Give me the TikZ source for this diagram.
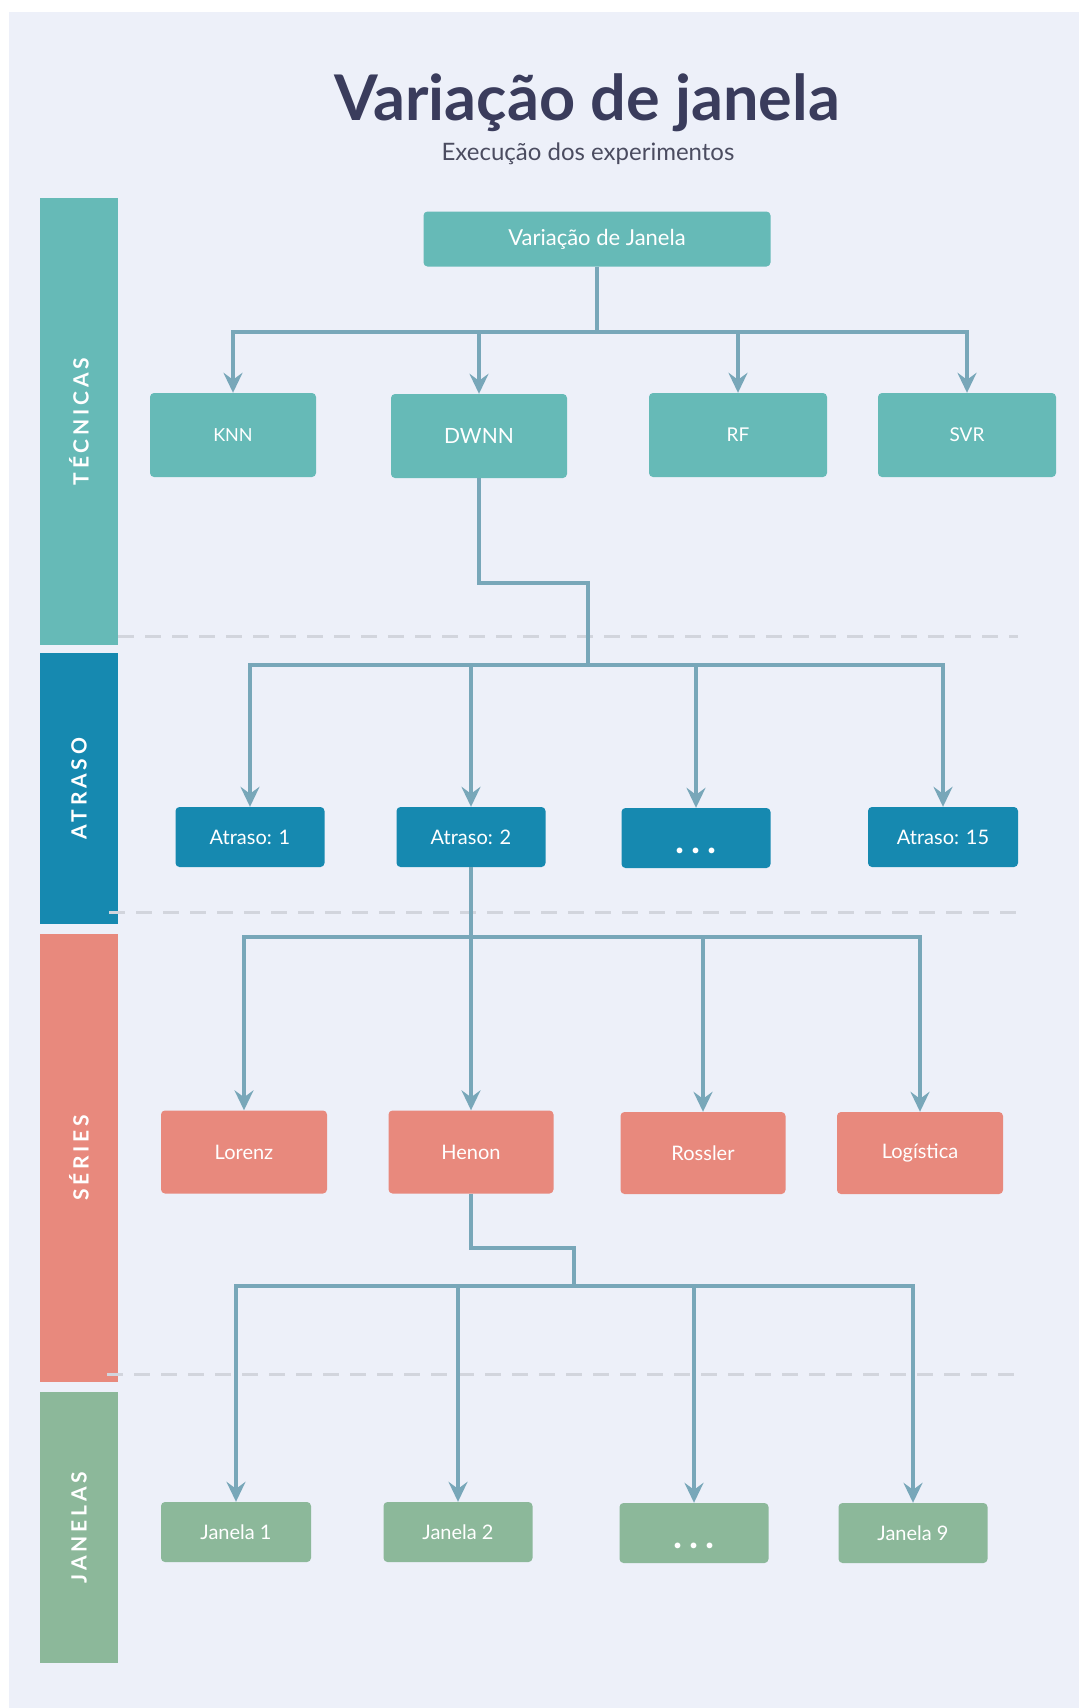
\documentclass[tikz,border=0pt]{standalone}
\usepackage{fontspec}
\setmainfont{Lato}
\newfontfamily\lanefont[LetterSpace=18]{Lato}
\usetikzlibrary{arrows.meta, positioning}
\definecolor{cBack}{HTML}{EDF0F9}
\definecolor{cTitle}{HTML}{3A3C5C}
\definecolor{cSub}{HTML}{4B4C60}
\definecolor{cTeal}{HTML}{66BAB7}
\definecolor{cBlue}{HTML}{1689B0}
\definecolor{cSalmon}{HTML}{E8897D}
\definecolor{cSage}{HTML}{8CB89A}
\definecolor{cLine}{HTML}{78A7B9}
\definecolor{cDash}{HTML}{D2D5DD}
\tikzset{
	box/.style    ={rectangle, rounded corners=4pt, inner sep=0pt, align=center, text=white, font=\fontsize{20}{24}\selectfont},
	dots/.style   ={text height=30pt, text depth=0pt, font=\bfseries\fontsize{38}{38}\selectfont},
	lane/.style   ={rectangle, inner sep=0pt, minimum height=78.5pt, rotate=90, text=white, font=\lanefont\bfseries\fontsize{21}{24}\selectfont},
	flowarrow/.style={-{Stealth[length=20pt, width=19pt, inset=7pt]}, line width=3.5pt, draw=cLine},
	link/.style   ={line width=3.5pt, draw=cLine},
	sep/.style    ={line width=3pt, draw=cDash, dash pattern=on 16pt off 11pt},
}

\begin{document}
\begin{tikzpicture}[x=1pt, y=-1pt]
	\useasboundingbox (0,0) rectangle (1079,1708);
	\fill[white] (0,0) rectangle (1079,1708);
	\fill[cBack] (9,12) rectangle (1079,1708);

	% heading
	\node[anchor=base, text=cTitle, font=\bfseries\fontsize{63}{70}\selectfont] (title) at (587,120) {Variação de janela};
	\node[anchor=base, text=cSub, font=\fontsize{24}{28}\selectfont] (sub) at (588,160) {Execução dos experimentos};

	% side lanes
	\node[lane, fill=cTeal, minimum width=447pt] (ltec) at (79,421.5) {TÉCNICAS};
	\node[lane, fill=cBlue, minimum width=271pt] (latr) at (79,788.5) {ATRASO};
	\node[lane, fill=cSalmon, minimum width=448pt] (lser) at (79,1158) {SÉRIES};
	\node[lane, fill=cSage, minimum width=271pt] (ljan) at (79,1527.5) {JANELAS};

	\draw[sep] (118,636) -- (1018,636);
	\draw[sep] (109,912) -- (1018,912);
	\draw[sep] (107,1374) -- (1018,1374);

	% techniques
	\node[box, fill=cTeal, minimum width=347pt, minimum height=55pt, font=\fontsize{22}{26}\selectfont] (top) at (597,239) {Variação de Janela};
	\node[box, fill=cTeal, minimum width=166pt, minimum height=84pt, font=\fontsize{18}{22}\selectfont] (knn) at (233,435) {KNN};
	\node[box, fill=cTeal, minimum width=176pt, minimum height=84pt, font=\fontsize{21}{24}\selectfont] (dwnn) at (479,436) {DWNN};
	\node[box, fill=cTeal, minimum width=178pt, minimum height=84pt, font=\fontsize{19}{22}\selectfont] (rf) at (738,435) {RF};
	\node[box, fill=cTeal, minimum width=178pt, minimum height=84pt, font=\fontsize{19}{22}\selectfont] (svr) at (967,435) {SVR};

	% delays
	\node[box, fill=cBlue, minimum width=149pt, minimum height=60pt] (a1) at (250,837) {Atraso: 1};
	\node[box, fill=cBlue, minimum width=149pt, minimum height=60pt] (a2) at (471,837) {Atraso: 2};
	\node[box, fill=cBlue, minimum width=149pt, minimum height=60pt, dots] (adots) at (696,838) {.\hspace{7pt}.\hspace{7pt}.};
	\node[box, fill=cBlue, minimum width=150pt, minimum height=60pt] (a15) at (943,837) {Atraso: 15};

	% series
	\node[box, fill=cSalmon, minimum width=166pt, minimum height=83pt] (lor) at (244,1152) {Lorenz};
	\node[box, fill=cSalmon, minimum width=165pt, minimum height=83pt] (hen) at (471,1152) {Henon};
	\node[box, fill=cSalmon, minimum width=165pt, minimum height=82pt] (ros) at (703,1153) {Rossler};
	\node[box, fill=cSalmon, minimum width=166pt, minimum height=82pt] (logi) at (920,1153) {Logística};

	% windows
	\node[box, fill=cSage, minimum width=150pt, minimum height=60pt] (w1) at (236,1532) {Janela 1};
	\node[box, fill=cSage, minimum width=149pt, minimum height=60pt] (w2) at (458,1532) {Janela 2};
	\node[box, fill=cSage, minimum width=149pt, minimum height=60pt, dots] (wdots) at (694,1533) {.\hspace{7pt}.\hspace{7pt}.};
	\node[box, fill=cSage, minimum width=149pt, minimum height=60pt] (w9) at (913,1533) {Janela 9};

	% connectors
	\coordinate (j1) at (597,332);
	\draw[link] (top) -- (j1);
	\foreach \n in {knn,dwnn,rf,svr}
		\draw[flowarrow] (j1) -| (\n);

	\coordinate (k2) at (588,583);
	\coordinate (j2) at (588,665);
	\draw[link] (dwnn) |- (k2) -- (j2);
	\foreach \n in {a1,a2,adots,a15}
		\draw[flowarrow] (j2) -| (\n);

	\coordinate (j3) at (471,937);
	\draw[link] (a2) -- (j3);
	\foreach \n in {lor,hen,ros,logi}
		\draw[flowarrow] (j3) -| (\n);

	\coordinate (k4) at (574,1248);
	\coordinate (j4) at (574,1286);
	\draw[link] (hen) |- (k4) -- (j4);
	\foreach \n in {w1,w2,wdots,w9}
		\draw[flowarrow] (j4) -| (\n);
\end{tikzpicture}
\end{document}
